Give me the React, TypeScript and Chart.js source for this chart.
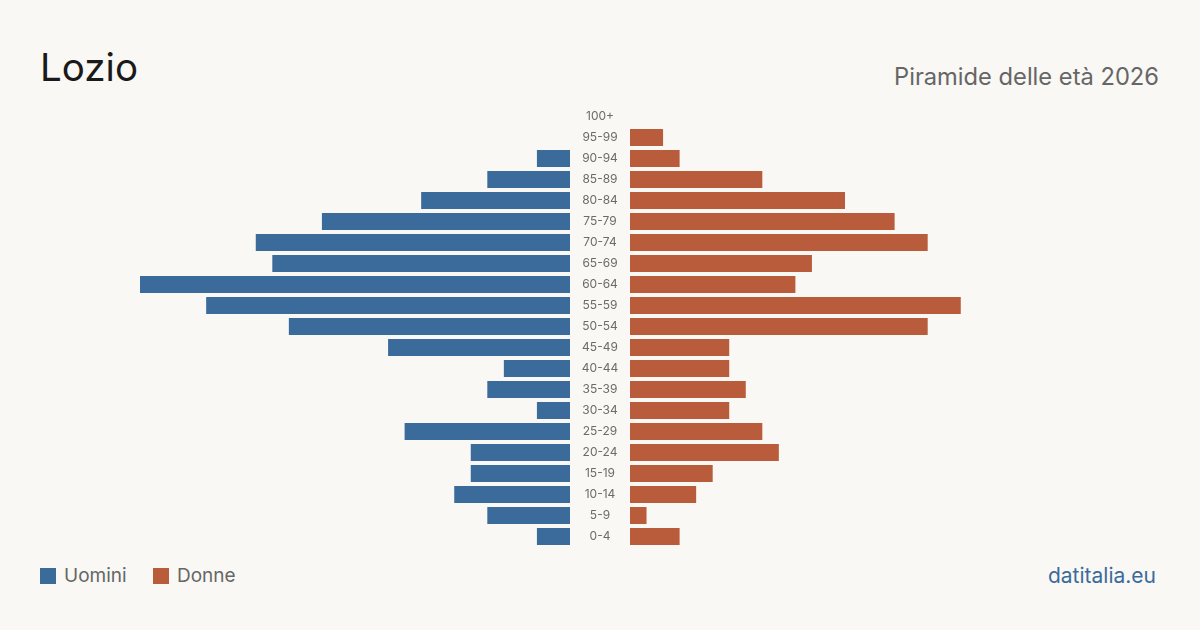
import React, { useEffect, useRef } from "react";
import { Chart, registerables } from "chart.js";

Chart.register(...registerables);

// Age groups, youngest first (the axis is reversed so 100+ sits on top)
const ageGroups = [
  "0-4", "5-9", "10-14", "15-19", "20-24", "25-29", "30-34", "35-39",
  "40-44", "45-49", "50-54", "55-59", "60-64", "65-69", "70-74", "75-79",
  "80-84", "85-89", "90-94", "95-99", "100+",
];

// Residents per age group
const men = [2, 5, 7, 6, 6, 10, 2, 5, 4, 11, 17, 22, 26, 18, 19, 15, 9, 5, 2, 0, 0];
const women = [3, 1, 4, 5, 9, 8, 6, 7, 6, 6, 18, 20, 10, 11, 18, 16, 13, 8, 3, 2, 0];

const seriesLabels = ["Uomini", "Donne"];
const title = "Lozio";
const subtitle = "Piramide delle età 2026";
const source = "datitalia.eu";

const BLUE = "#3b6b9b";
const ORANGE = "#b95c3c";
const BG = "#f9f8f4";
const FONT = "Inter, 'Noto Sans', sans-serif";
const AXIS_MAX = 26;
const LABEL_COL = 60;
const LABEL_FONT_SIZE = 12;

function widestLabel(): number {
  const c = document.createElement("canvas").getContext("2d");
  if (!c) return 34;
  c.font = `${LABEL_FONT_SIZE}px ${FONT}`;
  return Math.max(...ageGroups.map((l) => c.measureText(l).width));
}

export default function App() {
  const leftRef = useRef<HTMLCanvasElement>(null);
  const rightRef = useRef<HTMLCanvasElement>(null);

  useEffect(() => {
    document.body.style.margin = "0";
    const widest = widestLabel();
    const common = {
      indexAxis: "y" as const,
      animation: false as const,
      responsive: false,
      maintainAspectRatio: false,
      devicePixelRatio: 1,
      layout: { padding: 0 },
      plugins: { legend: { display: false }, tooltip: { enabled: false } },
    };

    const left = new Chart(leftRef.current!, {
      type: "bar",
      data: {
        labels: ageGroups,
        datasets: [
          {
            label: seriesLabels[0],
            data: men,
            backgroundColor: BLUE,
            barPercentage: 17 / 21,
            categoryPercentage: 1,
          },
        ],
      },
      options: {
        ...common,
        scales: {
          x: { min: 0, max: AXIS_MAX, reverse: true, display: false },
          y: {
            position: "right",
            reverse: true,
            grid: { display: false, drawTicks: false },
            border: { display: false },
            ticks: {
              crossAlign: "center",
              padding: LABEL_COL / 2 - widest / 2,
              color: "#6b6b6b",
              font: { family: FONT, size: LABEL_FONT_SIZE },
              autoSkip: false,
            },
            afterFit: (scale: any) => {
              scale.width = LABEL_COL;
              scale.paddingTop = 0;
              scale.paddingBottom = 0;
            },
          },
        },
      },
    });

    const right = new Chart(rightRef.current!, {
      type: "bar",
      data: {
        labels: ageGroups,
        datasets: [
          {
            label: seriesLabels[1],
            data: women,
            backgroundColor: ORANGE,
            barPercentage: 17 / 21,
            categoryPercentage: 1,
          },
        ],
      },
      options: {
        ...common,
        scales: {
          x: { min: 0, max: AXIS_MAX, display: false },
          y: { reverse: true, display: false },
        },
      },
    });

    return () => {
      left.destroy();
      right.destroy();
    };
  }, []);

  const legendItem = (label: string, color: string, x: number) => (
    <div
      style={{
        position: "absolute",
        left: x,
        top: 566,
        display: "flex",
        alignItems: "center",
        fontSize: 19,
        lineHeight: "20px",
        color: "#666",
      }}
    >
      <span
        style={{
          display: "inline-block",
          width: 16,
          height: 16,
          background: color,
          marginRight: 8,
        }}
      />
      {label}
    </div>
  );

  return (
    <div
      style={{
        position: "absolute",
        left: 0,
        top: 0,
        width: 1200,
        height: 630,
        background: BG,
        fontFamily: FONT,
        overflow: "hidden",
      }}
    >
      <div
        style={{
          position: "absolute",
          left: 40,
          top: 47,
          fontSize: 38.5,
          lineHeight: "40px",
          color: "#1a1a1a",
        }}
      >
        {title}
      </div>
      <div
        style={{
          position: "absolute",
          right: 41,
          top: 65,
          fontSize: 23.7,
          lineHeight: "24px",
          color: "#666",
        }}
      >
        {subtitle}
      </div>
      <canvas
        ref={leftRef}
        width={430 + LABEL_COL}
        height={441}
        style={{ position: "absolute", left: 140, top: 106, width: 430 + LABEL_COL, height: 441 }}
      />
      <canvas
        ref={rightRef}
        width={430}
        height={441}
        style={{ position: "absolute", left: 630, top: 106, width: 430, height: 441 }}
      />
      {legendItem(seriesLabels[0], BLUE, 40)}
      {legendItem(seriesLabels[1], ORANGE, 153)}
      <div
        style={{
          position: "absolute",
          right: 44,
          top: 565,
          fontSize: 21,
          lineHeight: "21px",
          color: BLUE,
        }}
      >
        {source}
      </div>
    </div>
  );
}
